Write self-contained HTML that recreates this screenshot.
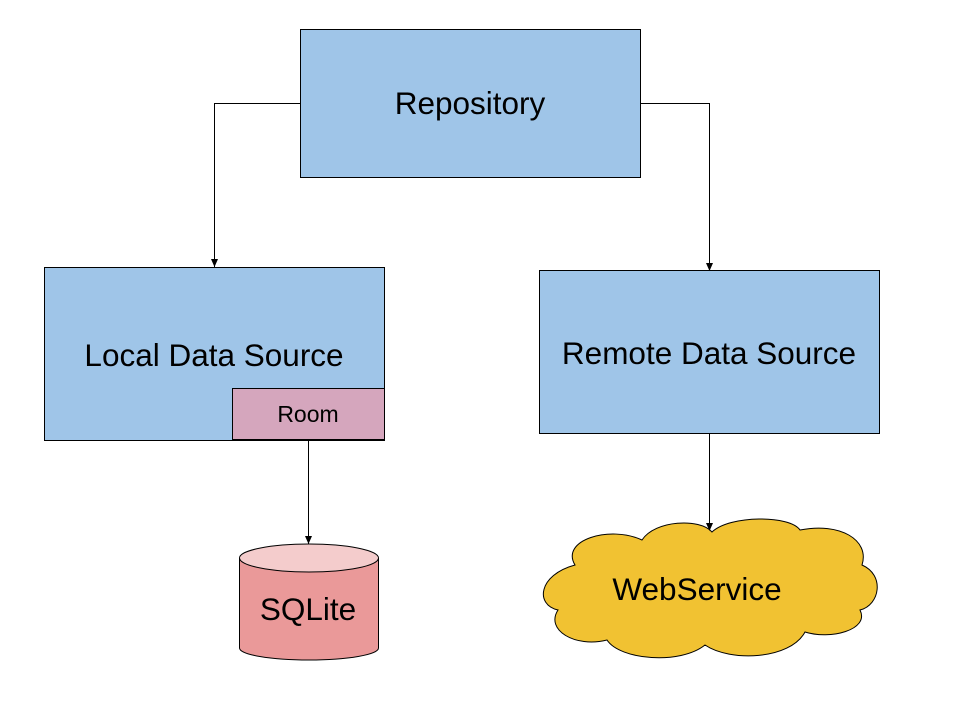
<!DOCTYPE html>
<html><head><style>body{margin:0;background:#fff}svg{display:block}text{font-family:"Liberation Sans",Arial,sans-serif;fill:#000}</style></head>
<body>
<svg width="960" height="720" viewBox="0 0 960 720" xmlns="http://www.w3.org/2000/svg">
<defs><marker id="a" markerWidth="8" markerHeight="8" refX="7" refY="4" orient="auto" markerUnits="userSpaceOnUse"><path d="M0,1 L7,4 L0,7 Z" fill="#000"/></marker></defs>
<rect x="300.5" y="29.5" width="340" height="148" fill="#9fc5e8" stroke="#000"/>
<text x="470" y="114" font-size="31.5" text-anchor="middle">Repository</text>
<rect x="44.5" y="267.5" width="340" height="173" fill="#9fc5e8" stroke="#000"/>
<text x="214" y="366" font-size="31.5" text-anchor="middle">Local Data Source</text>
<rect x="232.5" y="388.5" width="152" height="51" fill="#d5a6bd" stroke="#000"/>
<text x="308" y="422" font-size="23" text-anchor="middle">Room</text>
<rect x="539.5" y="270.5" width="340" height="163" fill="#9fc5e8" stroke="#000"/>
<text x="709" y="364" font-size="31.5" text-anchor="middle">Remote Data Source</text>
<path d="M239.5,558 V648 A69.5,12 0 0 0 378.5,648 V558" fill="#ea9999" stroke="#000"/>
<ellipse cx="309" cy="558" rx="69.5" ry="14" fill="#f4cccc" stroke="#000"/>
<text x="308" y="620" font-size="31.5" text-anchor="middle">SQLite</text>
<path d="M575,565 C560,540 610,525 642,540 C655,520 700,518 712,532 C730,515 790,515 800,530 C840,522 870,540 862,565 C885,575 880,605 860,610 C870,630 830,640 805,632 C790,660 730,662 705,645 C680,665 620,660 607,640 C575,648 545,630 558,610 C535,605 538,575 575,565 Z" fill="#f1c232" stroke="#000"/>
<text x="697" y="600" font-size="31.5" text-anchor="middle">WebService</text>
<g fill="none" stroke="#000" stroke-width="1">
<path d="M300,103.5 H214.5 V267"/>
<path d="M641,103.5 H709.5 V271"/>
<path d="M308.5,440 V544"/>
<path d="M709.5,434 V530"/>
</g>
<g fill="#000">
<path d="M211,259 L218,259 L214.5,267 Z"/>
<path d="M706,263 L713,263 L709.5,271 Z"/>
<path d="M305,536 L312,536 L308.5,544 Z"/>
<path d="M706,523 L713,523 L709.5,531 Z"/>
</g>
</svg>
</body></html>
